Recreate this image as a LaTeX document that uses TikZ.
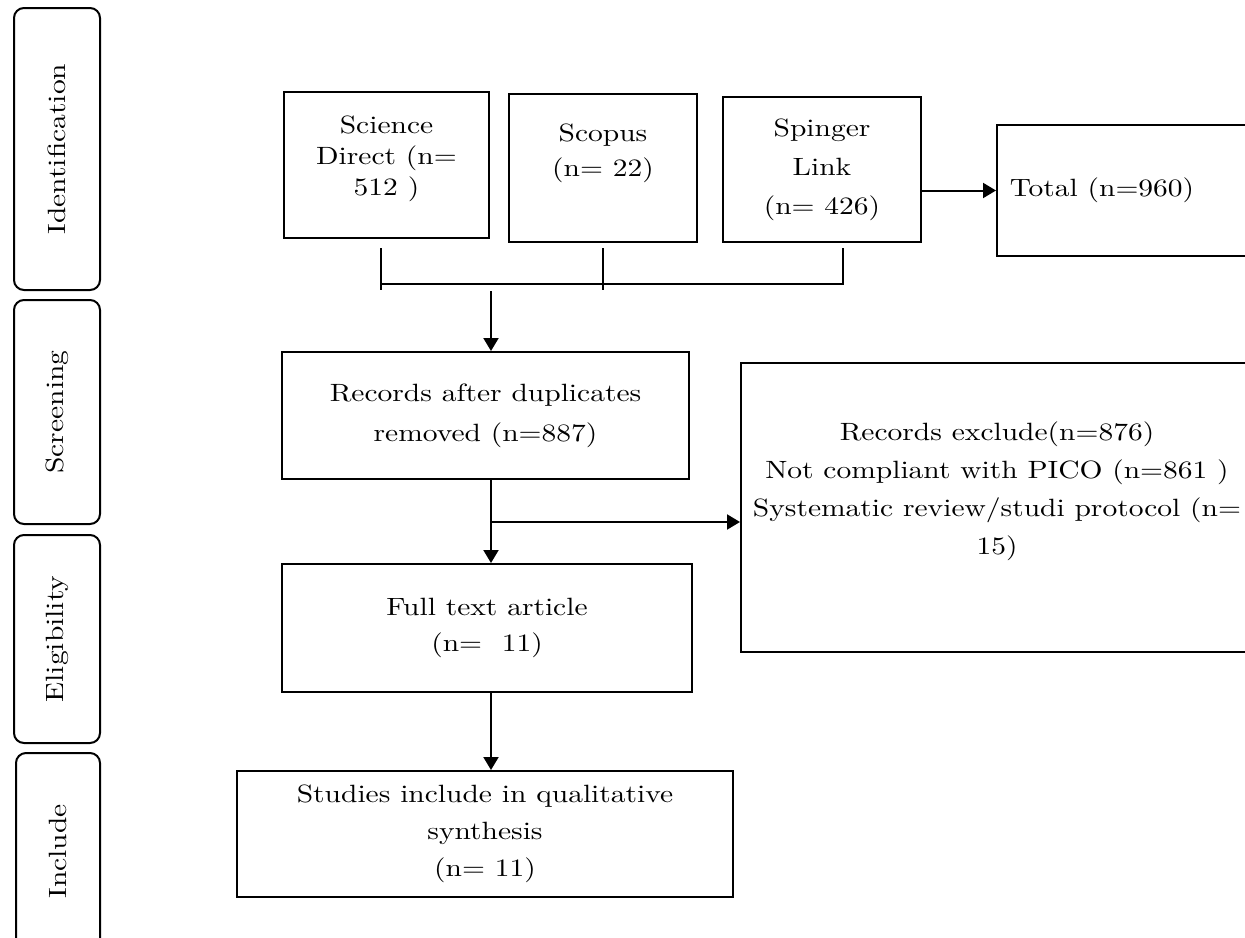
\documentclass[tikz,border=0pt]{standalone}
\usepackage{fontspec}
\setmainfont{lmroman10-regular.otf}[FakeStretch=1.18]
\usetikzlibrary{arrows.meta}

\begin{document}
\begin{tikzpicture}[x=0.5pt, y=-0.5pt, line width=1pt,
    every node/.style={font=\fontsize{12.5}{18}\selectfont},
    stage/.style={draw, rounded corners=5pt, rotate=90, minimum height=43pt},
    box/.style={draw, align=center, inner sep=2pt},
    arr/.style={-{Triangle[length=6.5pt, width=7.5pt]}}]
\useasboundingbox (0,0) rectangle (1245,937);

% phases on the left
\node (ident)[stage, minimum width=141pt] at (57,149) {Identification};
\node (screen)[stage, minimum width=112pt] at (57,412) {Screening};
\node (elig)[stage, minimum width=104pt] at (57,639) {Eligibility};
\node (incl)[stage, minimum width=98.5pt, minimum height=42pt] at (58,851.5) {Include};

% databases
\node (sd)[box, minimum width=102.5pt, minimum height=73pt, font=\fontsize{12.5}{15.5}\selectfont] at (386.5,165) {Science\\ Direct (n=\\ 512 )\\[-6pt]\mbox{}};
\node (scopus)[box, minimum width=94pt, minimum height=74pt, font=\fontsize{12.5}{17.5}\selectfont] at (603,168) {Scopus\\ (n= 22)\\ \mbox{}};
\node (spr)[box, minimum width=99pt, minimum height=72.5pt, font=\fontsize{12.5}{19.5}\selectfont] at (822,169.5) {Spinger\\ Link\\ (n= 426)};
\node (total)[box, minimum width=128pt, minimum height=65.5pt] at (1125,190.5) {Total (n=960)\hspace{23pt}};

% screening and after
\node (rec)[box, minimum width=203.5pt, minimum height=63.5pt, font=\fontsize{12.5}{20}\selectfont] at (485.5,415.5) {Records after duplicates\\ removed (n=887)};
\node (excl)[box, minimum width=256pt, minimum height=144.5pt, font=\fontsize{12.5}{19}\selectfont] at (997,507.5) {Records exclude(n=876)\\ Not compliant with PICO (n=861 )\\ Systematic review/studi protocol (n=\\ 15)\\ \mbox{}};
\node (full)[box, minimum width=205pt, minimum height=64pt] at (487,628) {Full text article\\ (n=\ \ 11)};
\node (stud)[box, minimum width=248pt, minimum height=63pt, font=\fontsize{12.5}{18.5}\selectfont] at (485,834) {Studies include in qualitative\\ synthesis\\ (n= 11)};

\coordinate (tick1) at (381,248);
\coordinate (tick2) at (603,248);
\coordinate (tick3) at (843,248);
\coordinate (bar) at (491,284);
\coordinate (merge) at (491,291);
\coordinate (split) at (491,522);

\draw (tick1) -- ++(0,42);
\draw (tick2) -- ++(0,42);
\draw (tick3) -- (tick3 |- bar) -- (tick1 |- bar);
\draw [arr] (merge) -- (merge |- rec.north);
\draw [arr] (merge |- rec.south) -- (merge |- full.north);
\draw [arr] (split) -- (split -| excl.west);
\draw [arr] (merge |- full.south) -- (merge |- stud.north);
\draw [arr] (spr.east |- total.west) -- (total.west);
\end{tikzpicture}
\end{document}
